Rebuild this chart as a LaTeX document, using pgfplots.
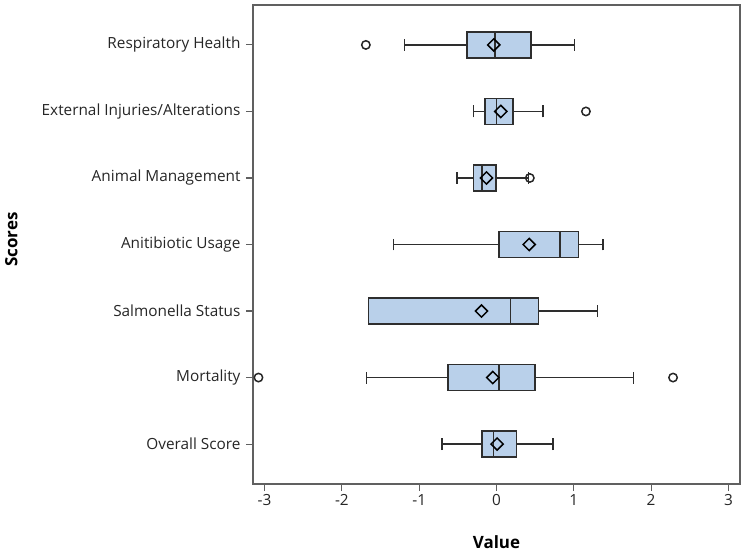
\documentclass[border=0pt]{standalone}
\usepackage{pgfplots}
\pgfplotsset{compat=1.18}
\usepgfplotslibrary{statistics}
\usepackage{fontspec}
\setmainfont{Open Sans}
\definecolor{boxblue}{HTML}{B9D0EA}
\definecolor{edge}{HTML}{2E2E2E}
\definecolor{frame}{HTML}{606060}
\begin{document}
\begin{tikzpicture}
\begin{axis}[
  scale only axis=true,
  width=487bp, height=479bp,
  xmin=-3.15, xmax=3.15,
  ymin=0.4, ymax=7.6,
  xtick={-3,-2,-1,0,1,2,3},
  ytick={1,2,3,4,5,6,7},
  yticklabels={Overall Score,Mortality,Salmonella Status,Anitibiotic Usage,Animal Management,External Injuries/Alterations,Respiratory Health},
  tick align=outside,
  xtick pos=bottom, ytick pos=left,
  major tick length=7bp,
  tick style={draw=frame, line width=1.1pt},
  axis line style={draw=frame, line width=1.1pt},
  /pgf/number format/assume math mode=true,
  ticklabel style={font=\fontsize{15.4}{18}\selectfont, text=black!85},
  yticklabel style={xshift=-2bp},
  xlabel={Value}, ylabel={Scores},
  label style={font=\fontsize{17}{20}\selectfont\bfseries},
  xlabel style={at={(axis description cs:0.5,-0.1205)}, anchor=center},
  ylabel style={at={(axis description cs:-0.496,0.51)}, anchor=center},
  boxplot/draw direction=x,
  clip=false,
]
% Overall Score
\addplot[draw=edge, fill=boxblue, line width=1.4pt, boxplot prepared={draw position=1,
  lower whisker=-0.704, lower quartile=-0.186, median=-0.035, upper quartile=0.259, upper whisker=0.729,
  box extend=0.39, whisker extend=0.18}] coordinates {};
% Mortality
\addplot[draw=edge, fill=boxblue, line width=1.4pt, boxplot prepared={draw position=2,
  lower whisker=-1.684, lower quartile=-0.627, median=0.034, upper quartile=0.500, upper whisker=1.774,
  box extend=0.39, whisker extend=0.18}] coordinates {};
% Salmonella Status
\addplot[draw=edge, fill=boxblue, line width=1.4pt, boxplot prepared={draw position=3,
  lower whisker=-1.654, lower quartile=-1.654, median=0.185, upper quartile=0.544, upper whisker=1.303,
  box extend=0.39, whisker extend=0.18}] coordinates {};
% Anitibiotic Usage
\addplot[draw=edge, fill=boxblue, line width=1.4pt, boxplot prepared={draw position=4,
  lower whisker=-1.330, lower quartile=0.034, median=0.820, upper quartile=1.062, upper whisker=1.377,
  box extend=0.39, whisker extend=0.18}] coordinates {};
% Animal Management
\addplot[draw=edge, fill=boxblue, line width=1.4pt, boxplot prepared={draw position=5,
  lower whisker=-0.510, lower quartile=-0.294, median=-0.186, upper quartile=-0.005, upper whisker=0.414,
  box extend=0.39, whisker extend=0.18}] coordinates {};
% External Injuries/Alterations
\addplot[draw=edge, fill=boxblue, line width=1.4pt, boxplot prepared={draw position=6,
  lower whisker=-0.294, lower quartile=-0.147, median=0.000, upper quartile=0.211, upper whisker=0.600,
  box extend=0.39, whisker extend=0.18}] coordinates {};
% Respiratory Health
\addplot[draw=edge, fill=boxblue, line width=1.4pt, boxplot prepared={draw position=7,
  lower whisker=-1.188, lower quartile=-0.381, median=-0.018, upper quartile=0.444, upper whisker=1.006,
  box extend=0.39, whisker extend=0.18}] coordinates {};
% means
\addplot[only marks, mark=square, mark size=4.3bp, mark options={rotate=45, draw=black, fill=none, line width=1.5pt}]
  coordinates {(0.008,1) (-0.048,2) (-0.194,3) (0.423,4) (-0.130,5) (0.056,6) (-0.035,7)};
% outliers
\addplot[only marks, mark=o, mark size=4.2bp, mark options={draw=black!85, line width=1.5pt}]
  coordinates {(-3.079,2) (2.284,2) (0.431,5) (1.157,6) (-1.690,7)};
\end{axis}
\pgfresetboundingbox
\path[use as bounding box] ([xshift=-253bp,yshift=-68bp]current axis.south west) rectangle ([xshift=5bp,yshift=5bp]current axis.north east);
\end{tikzpicture}
\end{document}
